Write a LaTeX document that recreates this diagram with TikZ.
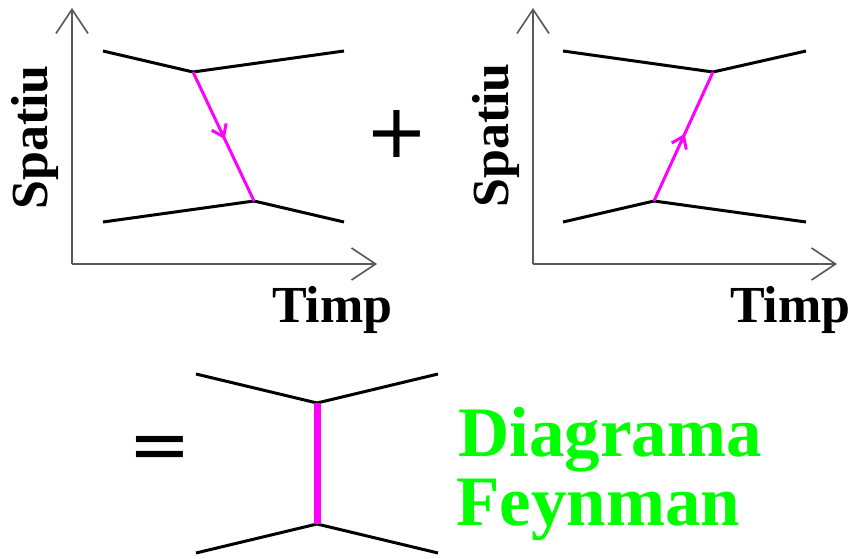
\documentclass[tikz,border=0pt]{standalone}
\usepackage{fontspec}
\setmainfont{Liberation Serif}
\newfontfamily\symfont{DejaVu Sans}
\usetikzlibrary{arrows.meta,decorations.markings}
\definecolor{axisgray}{RGB}{90,90,90}
\definecolor{mag}{RGB}{255,0,255}
\definecolor{lgreen}{RGB}{0,255,0}
\tikzset{
  axisline/.style={draw=axisgray,line width=1.6pt,-{Straight Barb[length=24pt,width=32pt,line width=1.6pt]}},
  particle/.style={draw=black,line width=3pt,line join=miter},
  exch/.style={draw=mag,line width=3pt},
  exchmid/.style={exch,postaction={decorate},decoration={markings,mark=at position 0.52 with {\arrow{Straight Barb[length=11pt,width=16pt,line width=3pt]}}}},
  bigexch/.style={draw=mag,line width=7pt},
  lbl/.style={inner sep=0pt,font=\bfseries\fontsize{52}{52}\selectfont},
  glbl/.style={inner sep=0pt,text=lgreen,font=\bfseries\fontsize{71}{71}\selectfont,anchor=base west},
  sym/.style={inner sep=0pt,font=\symfont\fontsize{75}{75}\selectfont}
}
\begin{document}
\begin{tikzpicture}[x=1pt,y=-1pt]
\useasboundingbox (0,0) rectangle (852,559);
% ---------- left panel ----------
\coordinate (o1) at (72,264);
\coordinate (y1) at (72,8);
\coordinate (x1) at (377,264);
\draw[axisline] (o1) -- (y1);
\draw[axisline] (o1) -- (x1);
\coordinate (a1) at (103,51);
\coordinate (v1) at (193,72);
\coordinate (b1) at (344,51);
\coordinate (c1) at (103,222);
\coordinate (w1) at (254,201);
\coordinate (d1) at (344,222);
\draw[particle] (a1) -- (v1) -- (b1);
\draw[particle] (c1) -- (w1) -- (d1);
\draw[exchmid] (v1) -- (w1);
\node[lbl,anchor=base west] (t1) at (272,322) {Timp};
\node[lbl,anchor=base west,rotate=90] (s1) at (47,210) {Spatiu};
% plus
\node[sym] (plus) at (397,133.5) {+};
% ---------- right panel ----------
\coordinate (o2) at (533,264);
\coordinate (y2) at (533,8);
\coordinate (x2) at (837,264);
\draw[axisline] (o2) -- (y2);
\draw[axisline] (o2) -- (x2);
\coordinate (a2) at (563,51);
\coordinate (v2) at (713,72);
\coordinate (b2) at (806,51);
\coordinate (c2) at (563,222);
\coordinate (w2) at (654,201);
\coordinate (d2) at (806,222);
\draw[particle] (a2) -- (v2) -- (b2);
\draw[particle] (c2) -- (w2) -- (d2);
\draw[exchmid] (w2) -- (v2);
\node[lbl,anchor=base west] (t2) at (730,322) {Timp};
\node[lbl,anchor=base west,rotate=90] (s2) at (508,208) {Spatiu};
% ---------- bottom ----------
\node[sym] (eq) at (160,453.5) {=};
\coordinate (a3) at (196,374);
\coordinate (v3) at (317,403);
\coordinate (b3) at (438,374);
\coordinate (c3) at (196,553);
\coordinate (w3) at (317,524);
\coordinate (d3) at (438,553);
\draw[particle] (a3) -- (v3) -- (b3);
\draw[particle] (c3) -- (w3) -- (d3);
\draw[bigexch] (v3) -- (w3);
\node[glbl] (dg) at (458,456) {Diagrama};
\node[glbl] (fy) at (456,525) {Feynman};
\end{tikzpicture}
\end{document}
